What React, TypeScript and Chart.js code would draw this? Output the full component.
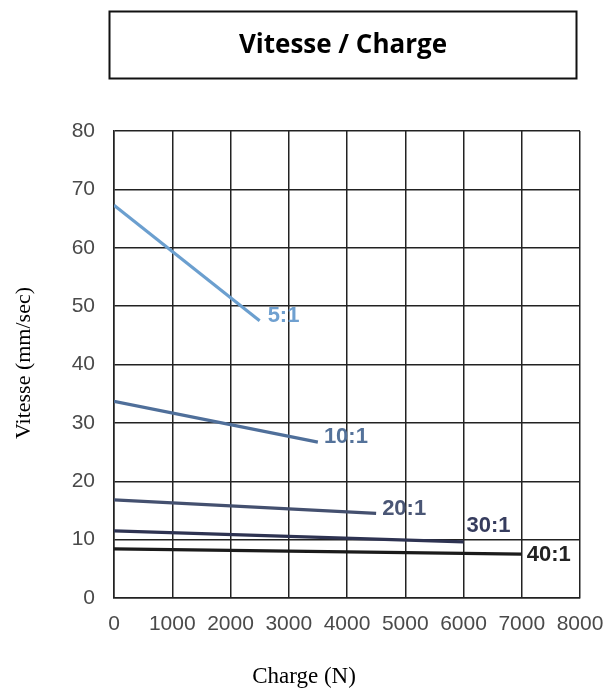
import React, { useEffect, useRef } from "react";
import { Chart, registerables } from "chart.js";

Chart.register(...registerables);

// ---- Data ----
const seriesNames = ["5:1", "10:1", "20:1", "30:1", "40:1"];
const load5 = [0, 2500];
const speed5 = [67.3, 47.5];
const load10 = [0, 3500];
const speed10 = [33.7, 26.7];
const load20 = [0, 4500];
const speed20 = [16.8, 14.5];
const load30 = [0, 6000];
const speed30 = [11.5, 9.6];
const load40 = [0, 7000];
const speed40 = [8.4, 7.5];

const xTicks = [0, 1000, 2000, 3000, 4000, 5000, 6000, 7000, 8000];
const yTicks = [0, 10, 20, 30, 40, 50, 60, 70, 80];

const chartTitle = "Vitesse / Charge";
const xTitle = "Charge (N)";
const yTitle = "Vitesse (mm/sec)";

// ---- Styles ----
const lineColors = ["#6b9fcf", "#4f6f9a", "#44506f", "#2e3352", "#1b1b1b"];
const labelColors = ["#6fa0d0", "#54729a", "#4a5675", "#363c5e", "#222222"];
const labelOffsets: [number, number][] = [
  [8, -5],
  [6, -5],
  [6, -4],
  [3, -16],
  [5, 1],
];

const seriesLoads = [load5, load10, load20, load30, load40];
const seriesSpeeds = [speed5, speed10, speed20, speed30, speed40];

const decorPlugin = {
  id: "decor",
  afterDraw(chart: any) {
    const ctx = chart.ctx;
    const xs = chart.scales.x;
    const ys = chart.scales.y;
    ctx.save();
    // title box
    ctx.strokeStyle = "#111";
    ctx.lineWidth = 2;
    ctx.strokeRect(109.5, 11.5, 467, 67);
    ctx.fillStyle = "#000";
    ctx.font = "bold 26px 'Open Sans', 'Liberation Sans', sans-serif";
    ctx.textAlign = "center";
    ctx.textBaseline = "middle";
    ctx.fillText(chartTitle, 343, 46);

    // axis titles
    ctx.font = "23px 'Liberation Serif', 'Times New Roman', serif";
    ctx.fillText(xTitle, 304, 677);
    ctx.save();
    ctx.translate(24, 363);
    ctx.rotate(-Math.PI / 2);
    ctx.font = "22px 'Liberation Serif', 'Times New Roman', serif";
    ctx.fillText(yTitle, 0, 0);
    ctx.restore();

    // series labels
    ctx.font = "bold 22px 'Liberation Sans', Arial, sans-serif";
    ctx.textAlign = "left";
    ctx.textBaseline = "middle";
    seriesNames.forEach((name, i) => {
      const loads = seriesLoads[i];
      const speeds = seriesSpeeds[i];
      const px = xs.getPixelForValue(loads[loads.length - 1]);
      const py = ys.getPixelForValue(speeds[speeds.length - 1]);
      ctx.fillStyle = labelColors[i];
      ctx.fillText(name, px + labelOffsets[i][0], py + labelOffsets[i][1]);
    });
    ctx.restore();
  },
};

export default function App() {
  const ref = useRef<HTMLCanvasElement | null>(null);
  useEffect(() => {
    document.body.style.margin = "0";
    const canvas = ref.current!;
    const tickFont = {
      family: "'Liberation Sans', Arial, sans-serif",
      size: 21,
      lineHeight: 1.2,
    };
    const chart = new Chart(canvas, {
      type: "line",
      data: {
        datasets: seriesNames.map((name, i) => ({
          label: name,
          data: seriesLoads[i].map((x, j) => ({ x, y: seriesSpeeds[i][j] })),
          borderColor: lineColors[i],
          backgroundColor: lineColors[i],
          borderWidth: 3.2,
          pointRadius: 0,
          tension: 0,
        })),
      },
      options: {
        responsive: false,
        animation: false,
        events: [],
        layout: { padding: { top: 131, right: 28, left: 0, bottom: 0 } },
        plugins: {
          legend: { display: false },
          tooltip: { enabled: false },
          title: { display: false },
        },
        scales: {
          x: {
            type: "linear",
            min: xTicks[0],
            max: xTicks[xTicks.length - 1],
            afterBuildTicks: (scale: any) => {
              scale.ticks = xTicks.map((v) => ({ value: v }));
            },
            afterFit: (scale: any) => {
              scale.height = 93;
              scale.paddingLeft = 0;
              scale.paddingRight = 0;
            },
            grid: { color: "#222", lineWidth: 1.5, drawTicks: false },
            border: { color: "#222", width: 1.5 },
            ticks: {
              font: tickFont,
              color: "#4a4a4a",
              padding: 14,
              maxRotation: 0,
              autoSkip: false,
              callback: (v: any) => String(v),
            },
          },
          y: {
            type: "linear",
            min: yTicks[0],
            max: yTicks[yTicks.length - 1],
            afterBuildTicks: (scale: any) => {
              scale.ticks = yTicks.map((v) => ({ value: v }));
            },
            afterFit: (scale: any) => {
              scale.width = 114;
              scale.paddingTop = 0;
              scale.paddingBottom = 0;
            },
            grid: { color: "#222", lineWidth: 1.5, drawTicks: false },
            border: { color: "#222", width: 1.5 },
            ticks: {
              font: tickFont,
              color: "#4a4a4a",
              padding: 19,
              autoSkip: false,
              callback: (v: any) => String(v),
            },
          },
        },
      },
      plugins: [decorPlugin],
    } as any);
    return () => chart.destroy();
  }, []);
  return (
    <canvas
      ref={ref}
      width={608}
      height={691}
      style={{ display: "block", width: 608, height: 691 }}
    />
  );
}
